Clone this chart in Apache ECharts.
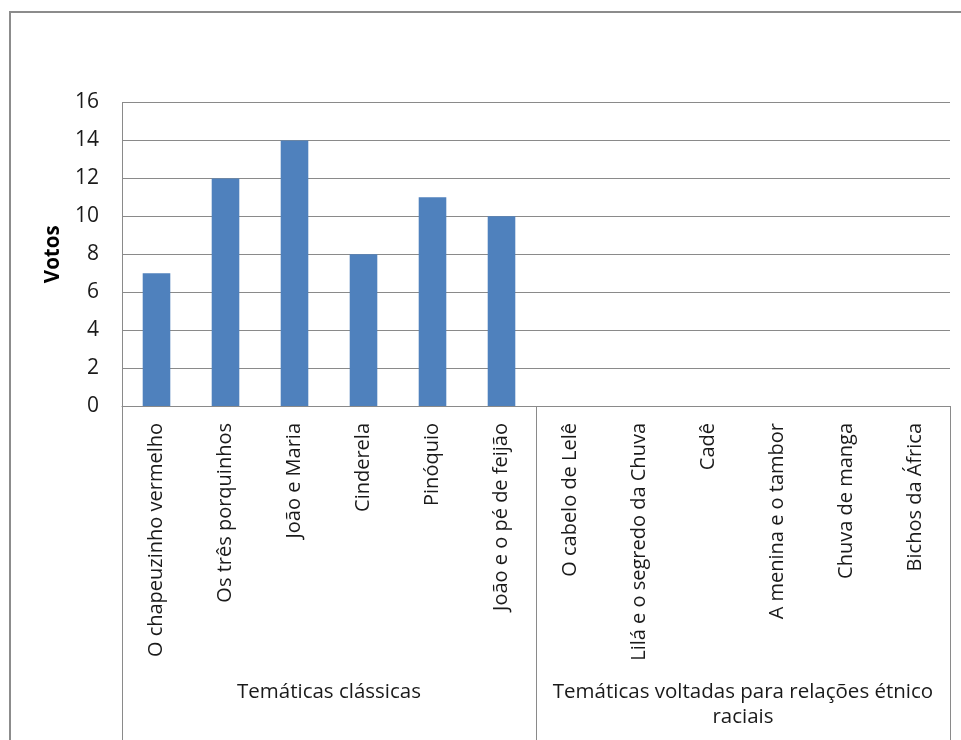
<!DOCTYPE html>
<html>
<head>
<meta charset="utf-8">
<script src="https://cdn.jsdelivr.net/npm/echarts@6/dist/echarts.min.js"></script>
<style>
  body { margin: 0; background: #fff; }
  #main { width: 961px; height: 740px; }
</style>
</head>
<body>
<div id="main"></div>
<script>
// livros e votos
var livros = [
  "O chapeuzinho vermelho", "Os três porquinhos", "João e Maria", "Cinderela",
  "Pinóquio", "João e o pé de feijão", "O cabelo de Lelê", "Lilá e o segredo da Chuva",
  "Cadê", "A menina e o tambor", "Chuva de manga", "Bichos da África"
];
var votos = [7, 12, 14, 8, 11, 10, 0, 0, 0, 0, 0, 0];
var grupos = ["Temáticas clássicas", "Temáticas voltadas para relações étnico\nraciais"];
var ticksY = [0, 2, 4, 6, 8, 10, 12, 14, 16];

var fonte = "Open Sans";
var chart = echarts.init(document.getElementById("main"));

var option = {
  animation: false,
  backgroundColor: "#fff",
  graphic: [
    {
      type: "rect",
      shape: { x: 10, y: 12, width: 1000, height: 1000 },
      style: { fill: "none", stroke: "#8c8c8c", lineWidth: 2 },
      silent: true
    }
  ],
  grid: { left: 122, right: 11, top: 102.5, bottom: 334 },
  xAxis: [
    {
      type: "category",
      data: livros,
      axisLine: { lineStyle: { color: "#8a8a8a", width: 1 } },
      axisTick: { show: false },
      axisLabel: {
        interval: 0,
        rotate: 90,
        margin: 17,
        fontFamily: fonte,
        fontSize: 20,
        color: "#1a1a1a"
      }
    },
    {
      type: "category",
      data: grupos,
      position: "bottom",
      axisLine: { show: false },
      axisTick: { show: true, length: 340, interval: 0, lineStyle: { color: "#8a8a8a" } },
      axisLabel: {
        interval: 0,
        margin: 274,
        fontFamily: fonte,
        fontSize: 20.5,
        lineHeight: 25,
        align: "center",
        color: "#1a1a1a"
      }
    }
  ],
  yAxis: {
    type: "value",
    min: ticksY[0],
    max: ticksY[ticksY.length - 1],
    interval: 2,
    name: "Votos",
    nameLocation: "middle",
    nameGap: 55,
    nameRotate: 90,
    nameTextStyle: { fontFamily: fonte, fontSize: 20.5, fontWeight: "bold", color: "#000" },
    axisLine: { show: true, lineStyle: { color: "#8a8a8a" } },
    axisTick: { show: false },
    axisLabel: { margin: 23, fontFamily: fonte, fontSize: 21, color: "#1a1a1a" },
    splitLine: { lineStyle: { color: "#8a8a8a" } }
  },
  series: [
    {
      type: "bar",
      data: votos,
      barWidth: "40%",
      itemStyle: { color: "#4f81bd" }
    }
  ]
};

chart.setOption(option);
</script>
</body>
</html>
